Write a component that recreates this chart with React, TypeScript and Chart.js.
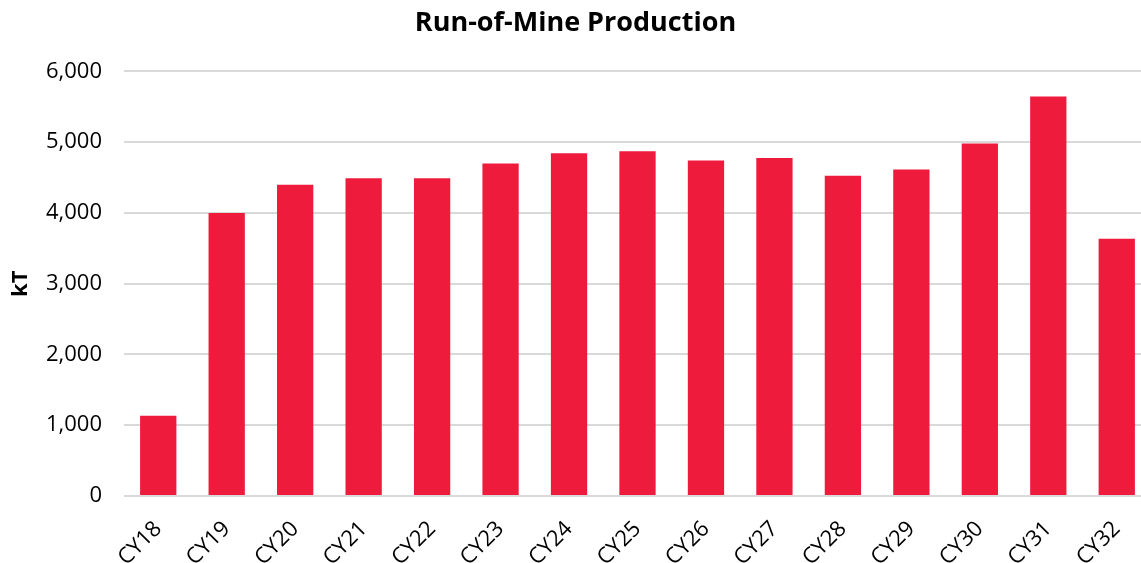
import React, { useEffect, useRef } from "react";
import { Chart, registerables } from "chart.js";

Chart.register(...registerables);

// Run-of-mine production by calendar year, in kilotonnes
const categories = [
  "CY18", "CY19", "CY20", "CY21", "CY22", "CY23", "CY24", "CY25",
  "CY26", "CY27", "CY28", "CY29", "CY30", "CY31", "CY32",
];
const romKt = [
  1135, 4000, 4400, 4490, 4490, 4700, 4845, 4870,
  4740, 4775, 4525, 4615, 4980, 5645, 3635,
];
const yMin = 0;
const yMax = 6000;
const yStep = 1000;

const BAR_RED = "#EE1B3C";
const GRID_GREY = "#D9D9D9";
const FONT = "'Open Sans', 'Noto Sans', sans-serif";

export default function App() {
  const canvasRef = useRef<HTMLCanvasElement | null>(null);

  useEffect(() => {
    const canvas = canvasRef.current;
    if (!canvas) return;
    const chart = new Chart(canvas, {
      type: "bar",
      data: {
        labels: categories,
        datasets: [
          {
            label: "Run-of-Mine Production",
            data: romKt,
            backgroundColor: BAR_RED,
            borderWidth: 0,
            categoryPercentage: 1,
            barPercentage: 0.53,
          },
        ],
      },
      options: {
        responsive: false,
        animation: false,
        layout: { padding: { left: 0, right: 0, top: 0, bottom: 0 } },
        plugins: {
          legend: { display: false },
          tooltip: { enabled: false },
          title: {
            display: true,
            text: "Run-of-Mine Production",
            color: "#000",
            font: { family: FONT, size: 27, weight: "bold" },
            padding: { top: 7, bottom: 32 },
          },
        },
        scales: {
          x: {
            grid: { display: false },
            border: { display: false },
            ticks: {
              color: "#000",
              font: { family: FONT, size: 22 },
              maxRotation: 45,
              minRotation: 45,
              padding: 12,
              autoSkip: false,
            },
            afterFit: (scale: any) => {
              scale.height = 67;
            },
          },
          y: {
            min: yMin,
            max: yMax,
            border: { display: false },
            grid: {
              color: GRID_GREY,
              lineWidth: 2,
              drawTicks: false,
            },
            ticks: {
              stepSize: yStep,
              color: "#000",
              padding: 22,
              font: { family: FONT, size: 22 },
              callback: (v: any) => Number(v).toLocaleString("en-US"),
            },
            title: {
              display: true,
              text: "kT",
              color: "#000",
              font: { family: FONT, size: 22, weight: "bold" },
              padding: { top: 8, bottom: 0 },
            },
            afterFit: (scale: any) => {
              scale.width = 124;
            },
          },
        },
      },
    });
    return () => chart.destroy();
  }, []);

  return (
    <div
      style={{
        position: "fixed",
        left: 0,
        top: 0,
        width: 1141,
        height: 563,
        overflow: "hidden",
        background: "#fff",
      }}
    >
      <canvas ref={canvasRef} width={1151} height={563} style={{ display: "block" }} />
    </div>
  );
}
